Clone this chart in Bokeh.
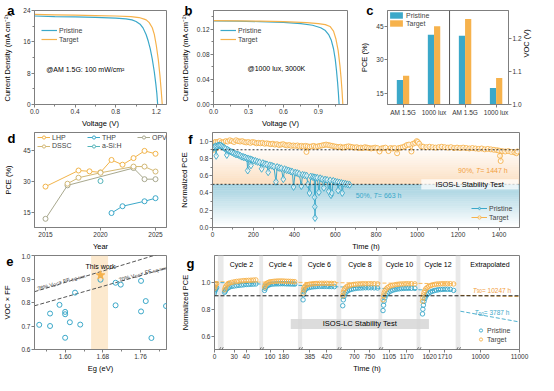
import math
import numpy as np
from bokeh.plotting import figure
from bokeh.layouts import column, row
from bokeh.models import (Label, Legend, LegendItem, Span, BoxAnnotation, FixedTicker,
                          PrintfTickFormatter, Range1d, LinearAxis, Arrow)
from bokeh.embed import file_html
from bokeh.resources import INLINE

# ------------------------------------------------------------------ data
# (a) J-V under AM 1.5G
a_v_pristine = [0.0, 0.2, 0.4, 0.6, 0.8, 0.9, 0.96, 1.0, 1.04, 1.07, 1.1, 1.12, 1.14, 1.16, 1.18, 1.195, 1.205, 1.213]
a_j_pristine = [22.6, 22.45, 22.35, 22.25, 22.05, 21.85, 21.6, 21.2, 20.5, 19.5, 17.8, 16.2, 14.2, 11.6, 8.3, 5.2, 2.8, 0.0]
a_v_target = [0.0, 0.2, 0.4, 0.6, 0.8, 0.95, 1.03, 1.08, 1.1, 1.13, 1.16, 1.18, 1.2, 1.22, 1.235, 1.248, 1.258]
a_j_target = [23.0, 22.9, 22.8, 22.7, 22.6, 22.45, 22.2, 21.8, 21.6, 20.9, 19.6, 17.9, 15.0, 11.3, 7.5, 3.5, 0.0]
# (b) J-V under 1000 lux
b_v_pristine = [0.0, 0.2, 0.4, 0.6, 0.75, 0.85, 0.92, 0.96, 0.99, 1.01, 1.03, 1.045, 1.055, 1.065, 1.072, 1.078]
b_j_pristine = [0.1335, 0.133, 0.1322, 0.131, 0.129, 0.1265, 0.1225, 0.118, 0.111, 0.103, 0.089, 0.072, 0.055, 0.035, 0.018, 0.0]
b_v_target = [0.0, 0.2, 0.4, 0.6, 0.8, 0.9, 0.96, 1.0, 1.03, 1.05, 1.07, 1.085, 1.095, 1.103, 1.11]
b_j_target = [0.134, 0.1336, 0.133, 0.1322, 0.1305, 0.129, 0.1275, 0.1245, 0.117, 0.105, 0.086, 0.062, 0.042, 0.022, 0.0]
# (c) PCE and Voc
c_conditions = ["AM 1.5G", "1000 lux"]
c_pce_pristine = [21.0, 41.2]
c_pce_target = [22.9, 45.0]
c_voc_pristine = [1.21, 1.05]
c_voc_target = [1.261, 1.081]
# (d) indoor PCE records
d_year_lhp = [2015, 2018, 2019, 2020, 2021, 2022, 2023, 2024, 2025]
d_pce_lhp = [27.3, 35.1, 34.7, 34.2, 40.2, 37.9, 41.1, 44.6, 43.2]
d_year_dssc = [2017, 2018, 2020, 2023, 2024, 2025]
d_pce_dssc = [28.7, 31.6, 34.0, 37.0, 37.0, 34.6]
d_year_opv = [2015, 2017, 2023, 2024, 2025]
d_pce_opv = [11.7, 27.9, 36.3, 30.9, 30.9]
d_year_thp = [2021, 2022, 2024, 2025]
d_pce_thp = [14.5, 17.8, 20.2, 21.7]
d_year_asi = [2020]
d_pce_asi = [30.0]
# (e) Voc x FF vs band gap
e_eg = [1.545, 1.568, 1.568, 1.588, 1.600, 1.600, 1.600, 1.610, 1.621, 1.632, 1.675,
        1.707, 1.707, 1.718, 1.761, 1.761, 1.771, 1.783, 1.814]
e_vocff = [0.705, 0.753, 0.700, 0.790, 0.760, 0.750, 0.650, 0.716, 0.842, 0.706, 0.897,
           0.884, 0.788, 0.876, 0.892, 0.762, 0.806, 0.649, 0.785]
e_this_eg = [1.675]
e_this_vocff = [0.916]
e_band_eg = [1.655, 1.691]
e_sq78_eg = [1.535, 1.80]
e_sq78_v = [0.846, 1.007]
e_sq70_eg = [1.535, 1.815]
e_sq70_v = [0.786, 0.946]
# (f) ISOS-L stability (time h, normalized PCE)
f_pristine = [(0, 0.91), (8, 0.93), (14, 0.94), (18, 0.83), (22, 0.94), (28, 0.95), (34, 0.95), (40, 0.95),
              (46, 0.94), (52, 0.93), (58, 0.92), (64, 0.91), (70, 0.84), (74, 0.90), (80, 0.89), (88, 0.88),
              (96, 0.87), (104, 0.86), (112, 0.85), (120, 0.845), (128, 0.84), (136, 0.83), (144, 0.82),
              (152, 0.815), (160, 0.81), (168, 0.80), (172, 0.66), (176, 0.795), (184, 0.79), (188, 0.72),
              (192, 0.785), (200, 0.775), (210, 0.77), (220, 0.76), (230, 0.755), (240, 0.68), (246, 0.745),
              (256, 0.735), (266, 0.73), (272, 0.64), (280, 0.72), (290, 0.715), (300, 0.705), (310, 0.53),
              (316, 0.70), (326, 0.69), (336, 0.685), (346, 0.56), (352, 0.675), (362, 0.665), (372, 0.66),
              (382, 0.65), (390, 0.645), (396, 0.47), (404, 0.635), (414, 0.63), (424, 0.62), (434, 0.48),
              (440, 0.61), (450, 0.605), (460, 0.60), (466, 0.50), (474, 0.40), (480, 0.59), (490, 0.585),
              (497, 0.58), (499, 0.35), (500, 0.24), (501, 0.11), (504, 0.575), (512, 0.575), (520, 0.41),
              (526, 0.57), (536, 0.56), (544, 0.46), (550, 0.555), (560, 0.55), (568, 0.42), (575, 0.545),
              (579, 0.375), (583, 0.40), (590, 0.54), (600, 0.53), (610, 0.525), (614, 0.43), (620, 0.52),
              (630, 0.515), (634, 0.40), (640, 0.51), (650, 0.505), (660, 0.50), (670, 0.495)]
f_target = [(0, 0.97), (5, 0.90), (10, 0.985), (15, 0.99), (20, 0.92), (25, 0.99), (35, 1.0), (45, 0.985),
            (55, 0.99), (65, 1.0), (75, 0.995), (85, 1.01), (95, 1.0), (105, 0.99), (115, 1.01), (125, 1.0),
            (135, 0.995), (145, 1.0), (155, 0.99), (165, 0.985), (175, 0.99), (185, 0.98), (195, 0.99),
            (205, 0.985), (215, 0.975), (225, 0.98), (235, 0.975), (245, 0.98), (255, 0.97), (265, 0.975),
            (275, 0.97), (285, 0.965), (295, 0.97), (305, 0.96), (315, 0.965), (325, 0.955), (335, 0.96),
            (345, 0.965), (355, 0.955), (365, 0.95), (375, 0.955), (385, 0.945), (395, 0.95), (405, 0.945),
            (415, 0.95), (425, 0.94), (435, 0.945), (445, 0.94), (455, 0.945), (459, 0.875), (465, 0.94),
            (475, 0.935), (485, 0.94), (495, 0.945), (505, 0.935), (515, 0.94), (525, 0.945), (535, 0.95),
            (545, 0.955), (555, 0.96), (565, 0.955), (575, 0.95), (585, 0.945), (595, 0.94), (605, 0.935),
            (615, 0.93), (625, 0.935), (635, 0.925), (645, 0.93), (655, 0.935), (665, 0.94), (675, 0.935),
            (685, 0.93), (695, 0.925), (705, 0.93), (715, 0.92), (725, 0.925), (735, 0.92), (745, 0.93),
            (755, 0.925), (765, 0.92), (775, 0.915), (785, 0.92), (795, 0.925), (805, 0.92), (816, 0.88),
            (825, 0.915), (835, 0.92), (845, 0.925), (860, 0.885), (870, 0.92), (880, 0.915), (890, 0.92),
            (902, 0.86), (910, 0.92), (920, 0.925), (930, 0.93), (940, 0.94), (950, 0.955), (960, 0.96),
            (972, 0.88), (980, 0.97), (990, 0.98), (998, 1.0), (1003, 0.99), (1010, 0.97), (1020, 0.94),
            (1030, 0.935), (1045, 0.93), (1060, 0.935), (1075, 0.93), (1090, 0.925), (1105, 0.93),
            (1120, 0.935), (1135, 0.93), (1150, 0.925), (1165, 0.93), (1180, 0.92), (1195, 0.925),
            (1210, 0.92), (1225, 0.925), (1240, 0.92), (1255, 0.915), (1270, 0.92), (1285, 0.915),
            (1300, 0.91), (1315, 0.915), (1330, 0.905), (1345, 0.91), (1360, 0.905), (1375, 0.90),
            (1390, 0.895), (1400, 0.89), (1405, 0.83), (1408, 0.77), (1415, 0.885), (1430, 0.88),
            (1445, 0.885), (1460, 0.875), (1475, 0.87), (1485, 0.86), (1490, 0.88)]
f_t90 = 0.9
f_t50 = 0.5
# (g) ISOS-LC cycling (time h, normalized PCE)
g_t0 = [0, 1, 2, 3, 5]
g_pri0 = [0.92, 0.935, 0.945, 0.955, 0.96]
g_tar0 = [0.955, 0.97, 0.98, 0.985, 0.99]
g_t2 = [22, 22.5, 23, 24, 25, 26, 28, 30, 32, 34, 36, 38, 40, 42, 44, 46, 48]
g_pri2 = [0.926, 0.935, 0.945, 0.953, 0.96, 0.965, 0.97, 0.973, 0.976, 0.978, 0.98, 0.982, 0.984, 0.985, 0.986, 0.987, 0.988]
g_tar2 = [0.945, 0.96, 0.972, 0.982, 0.99, 0.995, 1.0, 1.004, 1.007, 1.009, 1.011, 1.013, 1.014, 1.015, 1.016, 1.017, 1.018]
g_t4 = [152, 153, 154, 156, 158, 160, 163, 166, 169, 172, 175, 178, 181, 184, 187, 190, 193, 196]
g_pri4 = [0.94, 0.955, 0.966, 0.975, 0.98, 0.984, 0.987, 0.988, 0.989, 0.989, 0.99, 0.99, 0.99, 0.989, 0.989, 0.988, 0.988, 0.987]
g_tar4 = [0.965, 0.978, 0.988, 0.995, 1.0, 1.004, 1.006, 1.008, 1.009, 1.01, 1.01, 1.01, 1.009, 1.008, 1.008, 1.007, 1.006, 1.005]
g_t6 = [371, 372, 373, 375, 377, 380, 384, 388, 392, 396, 400, 405, 410, 415, 420, 425, 430, 436]
g_pri6 = [0.87, 0.91, 0.93, 0.945, 0.952, 0.958, 0.962, 0.965, 0.967, 0.968, 0.969, 0.97, 0.97, 0.97, 0.97, 0.969, 0.969, 0.968]
g_tar6 = [0.92, 0.945, 0.96, 0.97, 0.977, 0.982, 0.986, 0.988, 0.99, 0.991, 0.992, 0.993, 0.993, 0.993, 0.993, 0.992, 0.992, 0.991]
g_t8 = [662, 664, 666, 669, 673, 678, 684, 690, 697, 704, 712, 720, 728, 737, 746, 755, 765, 776]
g_pri8 = [0.826, 0.87, 0.895, 0.915, 0.928, 0.937, 0.944, 0.948, 0.952, 0.955, 0.957, 0.958, 0.959, 0.96, 0.96, 0.96, 0.959, 0.958]
g_tar8 = [0.90, 0.925, 0.942, 0.955, 0.965, 0.972, 0.977, 0.981, 0.984, 0.986, 0.988, 0.989, 0.99, 0.99, 0.99, 0.99, 0.99, 0.989]
g_t10 = [1082, 1084, 1086, 1089, 1093, 1098, 1104, 1111, 1118, 1126, 1134, 1142, 1150, 1159, 1168, 1177, 1187, 1200]
g_pri10 = [0.79, 0.83, 0.86, 0.885, 0.905, 0.918, 0.928, 0.936, 0.942, 0.946, 0.95, 0.952, 0.954, 0.955, 0.956, 0.956, 0.956, 0.955]
g_tar10 = [0.87, 0.90, 0.92, 0.937, 0.95, 0.96, 0.968, 0.974, 0.978, 0.982, 0.985, 0.987, 0.988, 0.989, 0.99, 0.99, 0.99, 0.989]
g_t12 = [1578, 1580, 1583, 1587, 1592, 1598, 1606, 1615, 1625, 1636, 1648, 1660, 1672, 1685, 1698, 1712, 1726, 1742, 1762]
g_pri12 = [0.765, 0.80, 0.83, 0.858, 0.88, 0.898, 0.91, 0.92, 0.928, 0.934, 0.939, 0.942, 0.945, 0.947, 0.948, 0.949, 0.949, 0.948, 0.94]
g_tar12 = [0.86, 0.885, 0.905, 0.925, 0.94, 0.953, 0.962, 0.97, 0.976, 0.981, 0.984, 0.987, 0.988, 0.989, 0.99, 0.99, 0.99, 0.99, 0.988]
g_cycle_names = ["Cycle 2", "Cycle 4", "Cycle 6", "Cycle 8", "Cycle 10", "Cycle 12", "Extrapolated"]
g_trend_t = [0, 1773.6]
g_trend_pristine = [1.0, 0.935]
g_trend_target = [1.005, 0.99]
g_ext_t = [9487.8, 11000]
g_ext_pristine = [0.785, 0.705]
g_ext_target = [0.903, 0.894]
g_ticks = [0, 30, 40, 160, 180, 385, 420, 700, 750, 1105, 1170, 1620, 1710, 10000, 11000]
g_t90 = 0.9
# broken time axis: (t range) -> (display range)
G_SEG_T = [(0, 8), (21.1, 50.9), (149.9, 200.6), (369.2, 440.4), (657.2, 779.0), (1079.2, 1206.4), (1565.4, 1773.6), (9487.8, 11000)]
G_SEG_D = [(0, 3.5), (9.5, 47), (51, 87.5), (92, 128), (133, 172), (176, 212), (216, 253), (258, 320)]

# ------------------------------------------------------------------ style
FONT = "Liberation Sans"
TEAL = "#3BA8C9"
ORANGE = "#F6B24C"
AXC = "#7F7F7F"

CW = {c: 0.556 for c in "0123456789"}
CW.update({' ': 0.278, '.': 0.278, ',': 0.278, '%': 0.889, '(': 0.333, ')': 0.333, '×': 0.584, '-': 0.333,
           '=': 0.584, ':': 0.278, 'V': 0.667, 'O': 0.778, 'C': 0.722, 'E': 0.667, 'F': 0.611, 'S': 0.667,
           'Q': 0.778, 'T': 0.611, 'a': 0.556, 'c': 0.5, 'e': 0.556, 'g': 0.556, 'h': 0.556, 'i': 0.222,
           'l': 0.222, 'm': 0.833, 't': 0.278, 'v': 0.5})


def tw(s, size):
    return sum(CW.get(ch, 0.556) for ch in s) * size


def rich(p, x, y, runs, angle=0.0, units="data", align="center", color="black", base_dx=0.0, base_dy=0.0):
    total = sum(tw(t, s) for t, s, _, _ in runs)
    pos = -total / 2 if align == "center" else 0.0
    ca, sa = math.cos(angle), math.sin(angle)
    for t, s, sh, it in runs:
        dx = base_dx + pos * ca - sh * sa
        dy = base_dy + pos * sa + sh * ca
        p.add_layout(Label(x=x, y=y, x_units=units, y_units=units, x_offset=dx, y_offset=dy, text=t,
                           angle=angle, text_font=FONT, text_font_size=f"{s}px",
                           text_font_style="italic" if it else "normal", text_color=color,
                           text_align="left", text_baseline="alphabetic"))
        pos += tw(t, s)


def note(p, x, y, text, size=7, color="black", align="center", baseline="middle"):
    p.add_layout(Label(x=x, y=y, text=text, text_font=FONT, text_font_size=f"{size}px",
                       text_color=color, text_align=align, text_baseline=baseline))


def style_axis(ax):
    ax.axis_line_color = AXC
    ax.major_tick_line_color = AXC
    ax.minor_tick_line_color = AXC
    ax.major_tick_out = 3
    ax.major_tick_in = 0
    ax.minor_tick_out = 2
    ax.minor_tick_in = 0
    ax.major_label_text_font = FONT
    ax.major_label_text_font_size = "6.5px"
    ax.major_label_text_color = "#333333"
    ax.major_label_standoff = 1
    ax.axis_label_text_font = FONT
    ax.axis_label_text_font_size = "7.5px"
    ax.axis_label_text_font_style = "normal"
    ax.axis_label_text_color = "black"
    ax.axis_label_standoff = 2


def letter_axis(p, letter, y_pos, standoff, label, label_standoff, baseline=None):
    """Outer left axis that carries the panel letter (its only tick label) and the y-axis title."""
    ax = LinearAxis()
    style_axis(ax)
    ax.ticker = FixedTicker(ticks=[y_pos], minor_ticks=[])
    ax.major_label_overrides = {y_pos: letter}
    ax.major_label_text_font_size = "13px"
    ax.major_label_text_font_style = "bold"
    ax.major_label_text_color = "black"
    if baseline is not None:
        ax.major_label_text_baseline = baseline
    ax.major_tick_out = 0
    ax.minor_tick_out = 0
    ax.major_tick_line_color = None
    ax.minor_tick_line_color = None
    ax.axis_line_color = None
    ax.major_label_standoff = standoff
    ax.axis_label = label
    ax.axis_label_standoff = label_standoff
    p.add_layout(ax, "left")


def make_fig(w, h, xr, yr, bl, br, bt, bb):
    p = figure(width=w, height=h, x_range=Range1d(*xr), y_range=Range1d(*yr),
               output_backend="svg", toolbar_location=None,
               min_border_left=bl, min_border_right=br, min_border_top=bt, min_border_bottom=bb)
    p.xgrid.visible = False
    p.ygrid.visible = False
    p.outline_line_color = AXC
    p.outline_line_width = 1
    for ax in p.axis:
        style_axis(ax)
    return p


def make_legend(items, loc, glyph_w=16, glyph_h=8, label_h=8, spacing=1, font="7px",
                orientation="vertical", label_w=20, margin=0):
    return Legend(items=items, location=loc, orientation=orientation, glyph_width=glyph_w,
                  glyph_height=glyph_h, label_height=label_h, label_width=label_w, spacing=spacing,
                  padding=0, margin=margin, label_standoff=2, border_line_color=None,
                  background_fill_alpha=0, label_text_font=FONT, label_text_font_size=font)


# ------------------------------------------------------------------ (a)
pa = make_fig(177, 130, (0, 1.3), (0, 24), 25, 11, 10, 23)
pa.xaxis.ticker = FixedTicker(ticks=[0, 0.4, 0.8, 1.2], minor_ticks=[0.2, 0.6, 1.0])
pa.xaxis.formatter = PrintfTickFormatter(format="%.1f")
pa.yaxis.ticker = FixedTicker(ticks=[0, 8, 16, 24], minor_ticks=[4, 12, 20])
pa.xaxis.axis_label = "Voltage (V)"
letter_axis(pa, "a", 23.99, 6, "Current Density (mA cm⁻²)", -8, baseline="bottom")
ra1 = pa.line(a_v_pristine, a_j_pristine, line_color=TEAL, line_width=1.2)
ra2 = pa.line(a_v_target, a_j_target, line_color=ORANGE, line_width=1.2)
pa.add_layout(make_legend([LegendItem(label="Pristine", renderers=[ra1]),
                           LegendItem(label="Target", renderers=[ra2])], (7, 61)))
note(pa, 0.5, 8.9, "@AM 1.5G: 100 mW/cm²")

# ------------------------------------------------------------------ (b)
pb = make_fig(180, 130, (0, 1.15), (0, 0.15), 28, 10, 10, 23)
pb.xaxis.ticker = FixedTicker(ticks=[0, 0.3, 0.6, 0.9], minor_ticks=[0.15, 0.45, 0.75, 1.05])
pb.xaxis.formatter = PrintfTickFormatter(format="%.1f")
pb.yaxis.ticker = FixedTicker(ticks=[0, 0.04, 0.08, 0.12], minor_ticks=[0.02, 0.06, 0.10, 0.14])
pb.yaxis.formatter = PrintfTickFormatter(format="%.2f")
pb.xaxis.axis_label = "Voltage (V)"
letter_axis(pb, "b", 0.1499, 1, "Current Density (mA cm⁻²)", -8, baseline="bottom")
rb1 = pb.line(b_v_pristine, b_j_pristine, line_color=TEAL, line_width=1.2)
rb2 = pb.line(b_v_target, b_j_target, line_color=ORANGE, line_width=1.2)
pb.add_layout(make_legend([LegendItem(label="Pristine", renderers=[rb1]),
                           LegendItem(label="Target", renderers=[rb2])], (7, 61)))
note(pb, 0.54, 0.058, "@1000 lux, 3000K")

# ------------------------------------------------------------------ (c)
pc = make_fig(181, 130, (-0.5, 3.4), (10, 52), 22, 25, 10, 23)
pc.left[0].ticker = FixedTicker(ticks=[15, 30, 45])
letter_axis(pc, "c", 51.99, 0, "PCE (%)", -6, baseline="bottom")
pc.extra_y_ranges = {"voc": Range1d(1.0, 1.287)}
rax = LinearAxis(y_range_name="voc")
style_axis(rax)
rax.ticker = FixedTicker(ticks=[1.0, 1.1, 1.2])
rax.formatter = PrintfTickFormatter(format="%.1f")
rax.axis_label = "VOC (V)"
if "axis_label_orientation" in LinearAxis.properties():
    rax.axis_label_orientation = math.pi / 2
pc.add_layout(rax, "right")
ncond = len(c_conditions)
xs = np.arange(ncond)
rc1 = pc.vbar(x=xs - 0.1, top=c_pce_pristine, bottom=10, width=0.2, fill_color=TEAL, line_color=None)
rc2 = pc.vbar(x=xs + 0.1, top=c_pce_target, bottom=10, width=0.2, fill_color=ORANGE, line_color=None)
pc.vbar(x=xs + ncond - 0.1, top=c_voc_pristine, bottom=1.0, width=0.2, fill_color=TEAL, line_color=None, y_range_name="voc")
pc.vbar(x=xs + ncond + 0.1, top=c_voc_target, bottom=1.0, width=0.2, fill_color=ORANGE, line_color=None, y_range_name="voc")
pc.xaxis.ticker = FixedTicker(ticks=list(range(2 * ncond)))
pc.xaxis.major_label_overrides = {i: c_conditions[i % ncond] for i in range(2 * ncond)}
pc.add_layout(Span(location=ncond - 0.5, dimension="height", line_color="#555555", line_width=1))
pc.add_layout(make_legend([LegendItem(label="Pristine", renderers=[rc1]),
                           LegendItem(label="Target", renderers=[rc2])], "top_left",
                          glyph_w=16, glyph_h=8, label_h=8, spacing=0, margin=1))

# ------------------------------------------------------------------ (d)
FH2 = 98
pdd = make_fig(177, 123, (2014, 2026), (7.5, 53.5), 25, 11, 2, 23)
pdd.xaxis.ticker = FixedTicker(ticks=[2015, 2020, 2025])
pdd.yaxis.ticker = FixedTicker(ticks=[15, 30, 45])
pdd.xaxis.axis_label = "Year"
letter_axis(pdd, "d", 50.8, 5, "PCE (%)", -8)
d_series = [("LHP", d_year_lhp, d_pce_lhp, "#F2B44A"), ("THP", d_year_thp, d_pce_thp, TEAL),
            ("OPV", d_year_opv, d_pce_opv, "#A8A88E"), ("DSSC", d_year_dssc, d_pce_dssc, "#D3B874"),
            ("a-Si:H", d_year_asi, d_pce_asi, "#55B4BA")]
d_items = {}
for name, xv, yv, col in d_series:
    rl = pdd.line(xv, yv, line_color=col, line_width=1)
    rs = pdd.scatter(xv, yv, marker="circle", size=5, fill_color="white", line_color=col, line_width=1)
    d_items[name] = LegendItem(label=name, renderers=[rl, rs])
pdd.add_layout(make_legend([d_items["LHP"], d_items["THP"], d_items["OPV"]], (3, FH2 - 12),
                           glyph_w=13, orientation="horizontal", label_w=28, spacing=7))
pdd.add_layout(make_legend([d_items["DSSC"], d_items["a-Si:H"]], (3, FH2 - 20.5),
                           glyph_w=13, orientation="horizontal", label_w=28, spacing=7))

# ------------------------------------------------------------------ (f)
pf = make_fig(361, 123, (0, 1500), (0, 1.1), 27, 19, 2, 23)
pf.xaxis.ticker = FixedTicker(ticks=list(range(0, 1401, 200)), minor_ticks=list(range(100, 1500, 200)))
pf.yaxis.ticker = FixedTicker(ticks=[0, 0.2, 0.4, 0.6, 0.8, 1.0], minor_ticks=[0.1, 0.3, 0.5, 0.7, 0.9])
pf.yaxis.formatter = PrintfTickFormatter(format="%.1f")
pf.xaxis.axis_label = "Time (h)"
letter_axis(pf, "f", 1.05, 4, "Normalized PCE", -4)
nb = 16
oe = np.linspace(f_t50, f_t90, nb + 1)
pf.quad(left=0, right=1500, bottom=oe[:-1], top=oe[1:], fill_color="#F7B46E",
        fill_alpha=list(np.linspace(0.42, 0.05, nb)), line_color=None)
be = np.linspace(0, f_t50, 21)
pf.quad(left=0, right=1500, bottom=be[:-1], top=be[1:], fill_color="#5AACC6",
        fill_alpha=list(np.linspace(0.0, 0.55, 20)), line_color=None)
pf.add_layout(Span(location=f_t90, dimension="width", line_dash="2 2", line_color="black", line_width=0.8))
pf.add_layout(Span(location=f_t50, dimension="width", line_dash="2 2", line_color="black", line_width=0.8))
pf.add_layout(BoxAnnotation(left=1020, right=1495, bottom=0.44, top=0.56, fill_color="white",
                            fill_alpha=0.75, line_color=None))
note(pf, 1257, 0.5, "ISOS-L Stability Test", size=7.5)
ft_t, ft_v = zip(*f_target)
fp_t, fp_v = zip(*f_pristine)
rf2l = pf.line(ft_t, ft_v, line_color=ORANGE, line_width=1)
rf2s = pf.scatter(ft_t, ft_v, marker="circle", size=5, fill_color="white", fill_alpha=0.6, line_color=ORANGE, line_width=0.9)
rf1l = pf.line(fp_t, fp_v, line_color=TEAL, line_width=1)
rf1s = pf.scatter(fp_t, fp_v, marker="diamond", size=7, fill_color="white", fill_alpha=0.6, line_color=TEAL, line_width=0.9)
pf.add_layout(make_legend([LegendItem(label="Pristine", renderers=[rf1l, rf1s]),
                           LegendItem(label="Target", renderers=[rf2l, rf2s])], "bottom_right",
                          glyph_w=16, margin=6, label_w=24))
rich(pf, 1326, 0.655, [("90%, ", 7, 0, False), ("T", 7, 0, True), (" = 1447 h", 7, 0, False)], color="#F2A040")
rich(pf, 816, 0.372, [("50%, ", 7, 0, False), ("T", 7, 0, True), (" = 663 h", 7, 0, False)], color=TEAL)

# ------------------------------------------------------------------ (e)
FW_L, FH3 = 141, 96
pe = make_fig(177, 122, (1.535, 1.815), (0.6, 1.0), 25, 11, 2, 24)
pe.xaxis.ticker = FixedTicker(ticks=[1.60, 1.68, 1.76], minor_ticks=[1.56, 1.64, 1.72, 1.80])
pe.xaxis.formatter = PrintfTickFormatter(format="%.2f")
pe.yaxis.ticker = FixedTicker(ticks=[0.6, 0.7, 0.8, 0.9, 1.0])
pe.yaxis.formatter = PrintfTickFormatter(format="%.1f")
pe.xaxis.axis_label = "Eg (eV)"
letter_axis(pe, "e", 0.975, 5, "VOC × FF", -9)
pe.add_layout(BoxAnnotation(left=e_band_eg[0], right=e_band_eg[1], fill_color="#FBE3C2",
                            fill_alpha=0.8, line_color=None, level="underlay"))
pe.line(e_sq78_eg, e_sq78_v, line_dash="4 2", line_color="#555555", line_width=1)
pe.line(e_sq70_eg, e_sq70_v, line_dash="4 2", line_color="#555555", line_width=1)
pe.scatter(e_eg, e_vocff, marker="circle", size=5, fill_color=None, line_color=TEAL, line_width=1)
pe.scatter(e_this_eg, e_this_vocff, marker="star", size=9, fill_color=ORANGE, line_color=ORANGE)
note(pe, 1.675, 0.955, "This work", size=7, baseline="alphabetic")
ang78 = math.atan(((e_sq78_v[1] - e_sq78_v[0]) / 0.4 * FH3) / ((e_sq78_eg[1] - e_sq78_eg[0]) / 0.28 * FW_L))
ang70 = math.atan(((e_sq70_v[1] - e_sq70_v[0]) / 0.4 * FH3) / ((e_sq70_eg[1] - e_sq70_eg[0]) / 0.28 * FW_L))
x78 = 1.541
y78 = e_sq78_v[0] + (x78 - e_sq78_eg[0]) * (e_sq78_v[1] - e_sq78_v[0]) / (e_sq78_eg[1] - e_sq78_eg[0])
x70 = 1.714
y70 = e_sq70_v[0] + (x70 - e_sq70_eg[0]) * (e_sq70_v[1] - e_sq70_v[0]) / (e_sq70_eg[1] - e_sq70_eg[0])
rich(pe, x78, y78, [("78% V", 5.5, 0, False), ("OC", 4, -1, False), (" × FF", 5.5, 0, False), ("SQ-limit", 4, -1, False)],
     angle=ang78, align="left", base_dy=2, color="#333333")
rich(pe, x70, y70, [("70% V", 5.5, 0, False), ("OC", 4, -1, False), (" × FF", 5.5, 0, False), ("SQ-limit", 4, -1, False)],
     angle=ang70, align="left", base_dy=2, color="#333333")

# ------------------------------------------------------------------ (g)
def g_map(t):
    for (t0, t1), (d0, d1) in zip(G_SEG_T, G_SEG_D):
        if t0 - 1e-9 <= t <= t1 + 1e-9:
            return d0 + (t - t0) * (d1 - d0) / (t1 - t0)
    raise ValueError(t)


pg = make_fig(361, 122, (0, 320), (0.5, 1.2), 27, 19, 2, 24)
pg.yaxis.ticker = FixedTicker(ticks=[0.6, 0.8, 1.0])
pg.yaxis.formatter = PrintfTickFormatter(format="%.1f")
tick_pos = [round(g_map(t), 4) for t in g_ticks]
pg.xaxis.ticker = FixedTicker(ticks=tick_pos)
pg.xaxis.major_label_overrides = {d: str(t) for d, t in zip(tick_pos, g_ticks)}
pg.xaxis.axis_label = "Time (h)"
letter_axis(pg, "g", 1.14, 4, "Normalized PCE", -6)
gaps = [(G_SEG_D[i][1], G_SEG_D[i + 1][0]) for i in range(len(G_SEG_D) - 1)]
for l, r in gaps:
    pg.add_layout(BoxAnnotation(left=l, right=r, fill_color="#E9E9E9", fill_alpha=1, line_color=None, level="underlay"))
    c0 = (l + r) / 2
    for k in (-1.3, 1.3):
        pg.add_layout(Arrow(end=None, x_start=c0 + k - 1.4, y_start=0.483, x_end=c0 + k + 1.4, y_end=0.517,
                            line_color="#555555", line_width=0.8))
pg.add_layout(BoxAnnotation(left=80, right=225, bottom=0.653, top=0.727, fill_color="#D6D6D6",
                            fill_alpha=0.85, line_color=None))
note(pg, 152.5, 0.69, "ISOS-LC Stability Test", size=7.5)
pg.add_layout(Span(location=g_t90, dimension="width", line_dash="4 2", line_color="black", line_width=0.9))
pg.line([g_map(t) for t in g_trend_t], g_trend_target, line_dash="4 2", line_color=ORANGE, line_width=0.9)
pg.line([g_map(t) for t in g_trend_t], g_trend_pristine, line_dash="4 2", line_color=TEAL, line_width=0.9)
pg.line([g_map(t) for t in g_ext_t], g_ext_target, line_dash="4 2", line_color=ORANGE, line_width=0.9)
pg.line([g_map(t) for t in g_ext_t], g_ext_pristine, line_dash="4 2", line_color=TEAL, line_width=0.9)
g_all_t = g_t0 + g_t2 + g_t4 + g_t6 + g_t8 + g_t10 + g_t12
g_all_p = g_pri0 + g_pri2 + g_pri4 + g_pri6 + g_pri8 + g_pri10 + g_pri12
g_all_g = g_tar0 + g_tar2 + g_tar4 + g_tar6 + g_tar8 + g_tar10 + g_tar12
gd = [g_map(t) for t in g_all_t]
rg1 = pg.scatter(gd, g_all_p, marker="circle", size=4.5, fill_color=None, line_color=TEAL, line_width=0.9)
rg2 = pg.scatter(gd, g_all_g, marker="circle", size=4.5, fill_color=None, line_color=ORANGE, line_width=0.9)
for name, (d0, d1) in zip(g_cycle_names, G_SEG_D[1:]):
    note(pg, (d0 + d1) / 2, 1.13, name, size=7)
rich(pg, 292, 0.943, [("T", 6.5, 0, True), ("90", 4.8, -1.3, False), (" = 10247 h", 6.5, 0, False)], color="#F2A040")
rich(pg, 292, 0.772, [("T", 6.5, 0, True), ("90", 4.8, -1.3, False), (" = 3787 h", 6.5, 0, False)], color=TEAL)
pg.add_layout(make_legend([LegendItem(label="Pristine", renderers=[rg1]),
                           LegendItem(label="Target", renderers=[rg2])], "bottom_right",
                          glyph_w=9, margin=6, label_w=26))

layout = column(row(pa, pb, pc), row(pdd, pf), row(pe, pg))
open("out.html", "w").write(file_html(layout, INLINE))
